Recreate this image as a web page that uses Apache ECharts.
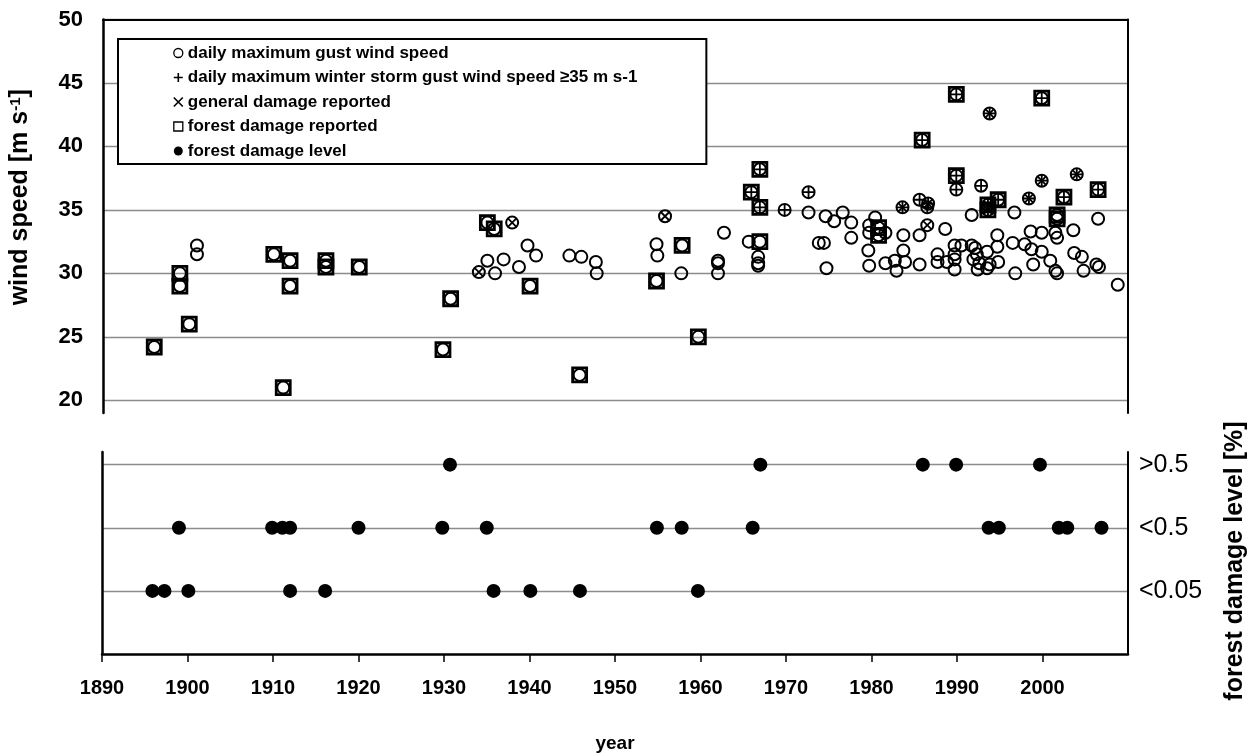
<!DOCTYPE html>
<html>
<head>
<meta charset="utf-8">
<title>Gust wind speed and forest damage</title>
<script src="https://cdn.jsdelivr.net/npm/echarts@6.0.0/dist/echarts.min.js"></script>
<style>
  html, body { margin: 0; padding: 0; background: #fff; }
  #chart { width: 1256px; height: 756px; }
</style>
</head>
<body>
<div id="chart"></div>
<script>
// Tick positions and labels
const yearTicks = [1890, 1900, 1910, 1920, 1930, 1940, 1950, 1960, 1970, 1980, 1990, 2000];
const speedTicks = [20, 25, 30, 35, 40, 45, 50];
const levelTicks = [1, 2, 3];
const levelLabels = ['<0.05', '<0.5', '>0.5'];

// Series names (legend)
const seriesNames = [
  'daily maximum gust wind speed',
  'daily maximum winter storm gust wind speed \u226535 m s-1',
  'general damage reported',
  'forest damage reported',
  'forest damage level'
];

// Daily maximum gust wind speed [year, m/s] – every event
const gust = [
  [1896.0, 24.2], [1899.0, 30.0], [1899.0, 29.0], [1900.1, 26.0], [1901.0, 32.2], [1901.0, 31.5],
  [1910.0, 31.5], [1911.1, 21.0], [1911.9, 31.0], [1911.9, 29.0], [1916.1, 31.0], [1916.1, 30.5],
  [1920.0, 30.5], [1929.8, 24.0], [1930.7, 28.0], [1934.0, 30.1], [1935.0, 34.0], [1935.0, 31.0],
  [1935.8, 33.5], [1935.9, 30.0], [1936.9, 31.1], [1937.9, 34.0], [1938.7, 30.5], [1939.7, 32.2],
  [1940.0, 29.0], [1940.7, 31.4], [1944.6, 31.4], [1945.8, 22.0], [1946.0, 31.3], [1947.7, 30.9],
  [1947.8, 30.0], [1954.8, 32.3], [1954.9, 31.4], [1954.8, 29.4], [1955.8, 34.5], [1957.8, 32.2],
  [1957.7, 30.0], [1959.7, 25.0], [1962.0, 31.0], [1962.0, 30.8], [1962.0, 30.0], [1962.7, 33.2],
  [1965.6, 32.5], [1965.9, 36.4], [1966.9, 38.2], [1966.9, 35.2], [1966.9, 32.5], [1966.7, 31.3],
  [1966.7, 30.8], [1966.7, 30.6], [1969.8, 35.0], [1972.6, 36.4], [1972.6, 34.8], [1973.8, 32.4],
  [1974.4, 32.4], [1974.7, 30.4], [1974.6, 34.5], [1975.6, 34.1], [1976.6, 34.8], [1977.6, 34.0],
  [1977.6, 32.8], [1979.7, 33.8], [1979.7, 33.2], [1980.4, 34.4], [1980.8, 33.6], [1980.8, 33.0],
  [1979.6, 31.8], [1979.7, 30.6], [1981.6, 33.2], [1981.6, 30.8], [1982.7, 31.0], [1982.9, 30.2],
  [1983.7, 33.0], [1983.7, 31.8], [1983.9, 30.9], [1983.6, 35.2], [1985.6, 35.8], [1985.9, 40.5],
  [1986.6, 35.5], [1986.5, 35.2], [1986.5, 33.8], [1985.6, 33.0], [1985.6, 30.7], [1987.7, 31.5],
  [1987.7, 30.9], [1988.6, 33.5], [1988.8, 30.9], [1989.7, 32.2], [1990.5, 32.2], [1989.7, 31.5],
  [1989.7, 31.1], [1989.7, 30.3], [1989.9, 44.1], [1989.9, 37.7], [1989.9, 36.6], [1991.7, 34.6],
  [1991.7, 32.2], [1992.1, 32.0], [1992.3, 31.5], [1991.9, 31.1], [1992.6, 30.8], [1992.4, 30.3],
  [1992.8, 36.9], [1993.8, 42.6], [1993.6, 35.4], [1993.6, 35.0], [1994.8, 35.8], [1993.5, 31.7],
  [1993.5, 30.4], [1993.8, 30.7], [1994.7, 33.0], [1994.7, 32.1], [1994.8, 30.9], [1996.7, 34.8],
  [1996.5, 32.4], [1996.8, 30.0], [1997.9, 32.3], [1998.4, 35.9], [1998.6, 33.3], [1998.7, 31.9],
  [1998.9, 30.7], [1999.9, 43.8], [1999.9, 37.3], [1999.9, 33.2], [1999.9, 31.7], [2000.9, 31.0],
  [2001.7, 34.6], [2001.7, 34.3], [2001.5, 33.2], [2001.7, 32.8], [2001.5, 30.2], [2001.7, 30.0],
  [2002.5, 36.0], [2003.6, 33.4], [2003.7, 31.6], [2004.0, 37.8], [2004.6, 31.3], [2004.8, 30.2],
  [2006.5, 36.6], [2006.5, 34.3], [2006.3, 30.7], [2006.6, 30.5], [2008.8, 29.1]
];

// Winter storm gusts >= 35 m/s
const winterStorm = [
  [1965.9, 36.4], [1966.9, 38.2], [1966.9, 35.2], [1969.8, 35.0], [1972.6, 36.4], [1983.6, 35.2],
  [1985.6, 35.8], [1985.9, 40.5], [1986.6, 35.5], [1986.5, 35.2], [1989.9, 44.1], [1989.9, 37.7],
  [1989.9, 36.6], [1992.8, 36.9], [1993.8, 42.6], [1993.6, 35.4], [1993.6, 35.0], [1994.8, 35.8],
  [1998.4, 35.9], [1999.9, 43.8], [1999.9, 37.3], [2002.5, 36.0], [2004.0, 37.8], [2006.5, 36.6]
];

// Events with general damage reported
const generalDamage = [
  [1934.0, 30.1], [1937.9, 34.0], [1955.8, 34.5], [1983.6, 35.2], [1986.6, 35.5], [1986.5, 33.8],
  [1993.8, 42.6], [1993.6, 35.4], [1993.6, 35.0], [1998.4, 35.9], [1999.9, 37.3], [2004.0, 37.8]
];

// Events with forest damage reported
const forestReported = [
  [1896.0, 24.2], [1899.0, 30.0], [1899.0, 29.0], [1900.1, 26.0], [1910.0, 31.5], [1911.1, 21.0],
  [1911.9, 31.0], [1911.9, 29.0], [1916.1, 31.0], [1916.1, 30.5], [1920.0, 30.5], [1929.8, 24.0],
  [1930.7, 28.0], [1935.0, 34.0], [1935.8, 33.5], [1940.0, 29.0], [1945.8, 22.0], [1954.8, 29.4],
  [1957.8, 32.2], [1959.7, 25.0], [1965.9, 36.4], [1966.9, 38.2], [1966.9, 35.2], [1966.9, 32.5],
  [1980.8, 33.6], [1980.8, 33.0], [1985.9, 40.5], [1989.9, 44.1], [1989.9, 37.7], [1993.6, 35.4],
  [1993.6, 35.0], [1994.8, 35.8], [1999.9, 43.8], [2001.7, 34.6], [2001.7, 34.3], [2002.5, 36.0],
  [2006.5, 36.6]
];

// Forest damage level classes: years per class (1: <0.05 %, 2: <0.5 %, 3: >0.5 %)
const levelLowYears = [1895.9, 1897.3, 1900.1, 1912.0, 1916.1, 1935.8, 1940.1, 1945.9, 1959.7];
const levelMidYears = [1899.0, 1909.9, 1911.1, 1912.0, 1920.0, 1929.8, 1935.0, 1954.9, 1957.8,
                       1966.1, 1993.7, 1994.9, 2001.9, 2002.9, 2006.9];
const levelHighYears = [1930.7, 1967.0, 1986.0, 1989.9, 1999.7];

const damageLevel = []
  .concat(levelLowYears.map(y => [y, 1]))
  .concat(levelMidYears.map(y => [y, 2]))
  .concat(levelHighYears.map(y => [y, 3]));

const FONT = '"Liberation Sans", Arial, Helvetica, sans-serif';
const PLUS = 'path://M5,0L5,10M0,5L10,5';
const CROSS = 'path://M0,0L10,10M10,0L0,10';
const BLACK = '#000';
const GRID_GREY = '#8c8c8c';

const chart = echarts.init(document.getElementById('chart'), null, { renderer: 'canvas' });

chart.setOption({
  animation: false,
  backgroundColor: '#fff',
  grid: [
    { left: 102, top: 19.5, width: 1026, height: 393.5 },
    { left: 102, top: 452, width: 1026, height: 202 }
  ],
  legend: {
    orient: 'vertical',
    left: 118,
    top: 39,
    backgroundColor: '#fff',
    borderColor: BLACK,
    borderWidth: 2,
    borderRadius: 0,
    padding: [4, 69, 3, 55],
    itemWidth: 9,
    itemHeight: 9,
    itemGap: 4.5,
    selectedMode: false,
    textStyle: { fontFamily: FONT, fontSize: 17, fontWeight: 'bold', color: BLACK, lineHeight: 20 },
    data: [
      { name: seriesNames[0], itemStyle: { borderWidth: 1.3 } },
      { name: seriesNames[1], itemStyle: { borderWidth: 1.6 } },
      { name: seriesNames[2], itemStyle: { borderWidth: 1.6 } },
      { name: seriesNames[3], itemStyle: { borderWidth: 1.3 } },
      { name: seriesNames[4] }
    ]
  },
  xAxis: [
    {
      gridIndex: 0, type: 'value', min: 1890, max: 2010, position: 'top',
      axisLine: { show: true, onZero: false, lineStyle: { color: BLACK, width: 2 } },
      axisTick: { show: false }, axisLabel: { show: false }, splitLine: { show: false }
    },
    {
      gridIndex: 1, type: 'value', min: 1890, max: 2010, position: 'bottom',
      axisLine: { show: true, onZero: false, lineStyle: { color: BLACK, width: 2.5 } },
      axisTick: { show: true, inside: false, length: 8, customValues: yearTicks,
                  lineStyle: { color: BLACK, width: 1.5 } },
      axisLabel: {
        customValues: yearTicks, margin: 24,
        fontFamily: FONT, fontSize: 20, fontWeight: 'bold', color: BLACK,
        formatter: v => String(Math.round(v))
      },
      splitLine: { show: false },
      name: 'year', nameLocation: 'middle', nameGap: 80,
      nameTextStyle: { fontFamily: FONT, fontSize: 19, fontWeight: 'bold', color: BLACK }
    }
  ],
  yAxis: [
    {
      gridIndex: 0, type: 'value', min: 19, max: 50, position: 'left',
      axisLine: { show: true, onZero: false, lineStyle: { color: BLACK, width: 2.5 } },
      axisTick: { show: false, customValues: speedTicks },
      axisLabel: {
        customValues: speedTicks, margin: 20,
        fontFamily: FONT, fontSize: 22, fontWeight: 'bold', color: BLACK,
        formatter: v => String(Math.round(v))
      },
      splitLine: { show: true, lineStyle: { color: GRID_GREY, width: 1.3 } },
      name: 'wind speed [m s{sup|-1}]',
      nameLocation: 'middle', nameRotate: 90, nameGap: 70,
      nameTextStyle: {
        fontFamily: FONT, fontSize: 25, fontWeight: 'bold', color: BLACK,
        padding: [0, 0, 0, 38],
        rich: { sup: { fontFamily: FONT, fontSize: 15, fontWeight: 'bold', color: BLACK, verticalAlign: 'top', lineHeight: 14 } }
      }
    },
    {
      gridIndex: 0, type: 'value', min: 19, max: 50, position: 'right',
      axisLine: { show: true, onZero: false, lineStyle: { color: BLACK, width: 2 } },
      axisTick: { show: false }, axisLabel: { show: false }, splitLine: { show: false }
    },
    {
      gridIndex: 1, type: 'value', min: 0, max: 3.2, position: 'left',
      axisLine: { show: true, onZero: false, lineStyle: { color: BLACK, width: 2.5 } },
      axisTick: { show: false }, axisLabel: { show: false }, splitLine: { show: false }
    },
    {
      gridIndex: 1, type: 'value', min: 0, max: 3.2, position: 'right',
      axisLine: { show: true, onZero: false, lineStyle: { color: BLACK, width: 2 } },
      axisTick: { show: false, customValues: levelTicks },
      axisLabel: {
        customValues: levelTicks, margin: 11,
        fontFamily: FONT, fontSize: 25, color: BLACK,
        formatter: v => levelLabels[levelTicks.indexOf(Math.round(v))] || ''
      },
      splitLine: { show: true, lineStyle: { color: GRID_GREY, width: 1.3 } },
      name: 'forest damage level [%]',
      nameLocation: 'middle', nameRotate: 90, nameGap: 95,
      nameTextStyle: {
        fontFamily: FONT, fontSize: 25, fontWeight: 'bold', color: BLACK,
        padding: [0, 16, 0, 0]
      }
    }
  ],
  series: [
    {
      name: seriesNames[3], type: 'scatter', xAxisIndex: 0, yAxisIndex: 0,
      data: forestReported, symbol: 'rect', symbolSize: 14,
      itemStyle: { color: 'transparent', borderColor: BLACK, borderWidth: 2.8, opacity: 1 },
      emphasis: { disabled: true }, z: 2
    },
    {
      name: seriesNames[0], type: 'scatter', xAxisIndex: 0, yAxisIndex: 0,
      data: gust, symbol: 'circle', symbolSize: 12,
      itemStyle: { color: 'transparent', borderColor: BLACK, borderWidth: 2, opacity: 1 },
      emphasis: { disabled: true }, z: 3
    },
    {
      name: seriesNames[1], type: 'scatter', xAxisIndex: 0, yAxisIndex: 0,
      data: winterStorm, symbol: PLUS, symbolSize: 12,
      itemStyle: { color: 'transparent', borderColor: BLACK, borderWidth: 1.8, opacity: 1 },
      emphasis: { disabled: true }, z: 4
    },
    {
      name: seriesNames[2], type: 'scatter', xAxisIndex: 0, yAxisIndex: 0,
      data: generalDamage, symbol: CROSS, symbolSize: 9,
      itemStyle: { color: 'transparent', borderColor: BLACK, borderWidth: 1.8, opacity: 1 },
      emphasis: { disabled: true }, z: 4
    },
    {
      name: seriesNames[4], type: 'scatter', xAxisIndex: 1, yAxisIndex: 3,
      data: damageLevel, symbol: 'circle', symbolSize: 14,
      itemStyle: { color: BLACK, borderColor: BLACK, borderWidth: 0, opacity: 1 },
      emphasis: { disabled: true }, z: 3
    }
  ]
});
</script>
</body>
</html>
